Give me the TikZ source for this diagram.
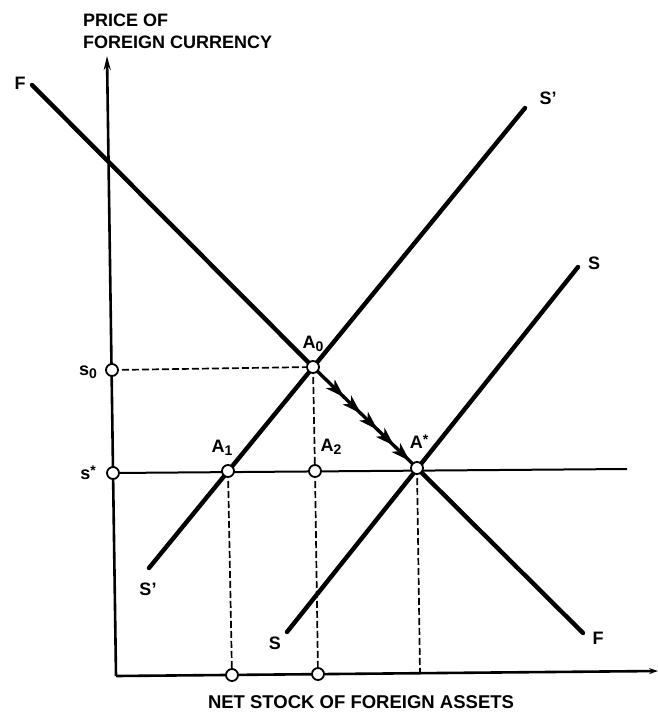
\documentclass[tikz,border=0pt]{standalone}
\usepackage{fontspec}
\setmainfont{Liberation Sans}
\usetikzlibrary{arrows.meta,decorations.markings}
\newcommand\lowsub[1]{\raisebox{-0.35ex}{\fontsize{14}{14}\selectfont #1}}
\newcommand\highsup[1]{\raisebox{0.45ex}{\fontsize{14}{14}\selectfont #1}}
\tikzset{flowtip/.tip={Stealth[length=19pt,width=12pt,inset=5pt]}}
\begin{document}
\begin{tikzpicture}[x=1pt,y=-1pt,
  curve/.style={line width=4.4pt, line cap=round},
  axisline/.style={line width=2.6pt},
  guide/.style={line width=1.7pt, dash pattern=on 7pt off 3pt},
  thinline/.style={line width=2pt},
  pt/.style={circle, draw, fill=white, line width=1.8pt, minimum size=12pt, inner sep=0pt},
  lab/.style={font=\fontsize{18}{18}\selectfont\bfseries, inner sep=0pt},
  flowarrows/.style={postaction={decorate}, decoration={markings,
     mark=at position 0.30 with {\arrow{flowtip}},
     mark=at position 0.46 with {\arrow{flowtip}},
     mark=at position 0.62 with {\arrow{flowtip}},
     mark=at position 0.78 with {\arrow{flowtip}},
     mark=at position 0.93 with {\arrow{flowtip}}}},
]
\useasboundingbox (0,0) rectangle (658,713);

% coordinates
\coordinate (top) at (107,56);
\coordinate (orig) at (116,676);
\coordinate (xend) at (658,671);
\coordinate (ps0) at (112,370);
\coordinate (pss) at (113,473);
\coordinate (pA0) at (313,367);
\coordinate (pA1) at (228,471);
\coordinate (pA2) at (315,471);
\coordinate (pAs) at (417,468);
\coordinate (px1) at (232,675);
\coordinate (px2) at (318,674);
\coordinate (px3) at (420,673);
\coordinate (sEnd) at (627,469);
\coordinate (Ftop) at (32,85);
\coordinate (Fbot) at (583,633);
\coordinate (Sp1) at (149,568);
\coordinate (Sp2) at (525,108);
\coordinate (S1) at (287,632);
\coordinate (S2) at (578,267);

% axes
\draw[axisline,-{Stealth[length=14pt,width=7pt]}] (orig) -- (top);
\draw[axisline,-{Stealth[length=9pt,width=6pt]}] (orig) -- (xend);

% guide lines
\draw[thinline] (pss) -- (sEnd);
\draw[guide] (ps0) -- (pA0);
\draw[guide] (pA0) -- (pA2);
\draw[guide] (pA2) -- (px2);
\draw[guide] (pA1) -- (px1);
\draw[guide] (pAs) -- (px3);

% curves
\draw[curve] (Ftop) -- (pA0);
\draw[curve] (pAs) -- (Fbot);
\draw[line width=3.4pt, flowarrows] (pA0) -- (pAs);
\draw[curve] (Sp1) -- (Sp2);
\draw[curve] (S1) -- (S2);

% points
\node[pt] (s0) at (ps0) {};
\node[pt] (ss) at (pss) {};
\node[pt] (A0) at (pA0) {};
\node[pt] (A1) at (pA1) {};
\node[pt] (A2) at (pA2) {};
\node[pt] (As) at (pAs) {};
\node[pt] (x1) at (px1) {};
\node[pt] (x2) at (px2) {};

% labels
\node[lab] (lA0) at (313,344) {A\lowsub{0}};
\node[lab] (lA1) at (222,448) {A\lowsub{1}};
\node[lab] (lA2) at (331,447) {A\lowsub{2}};
\node[lab] (lAs) at (419,442) {A\highsup{*}};
\node[lab] (ls0) at (88,372) {s\lowsub{0}};
\node[lab] (lss) at (88,473) {s\highsup{*}};
\node[lab] (lF1) at (20,83) {F};
\node[lab] (lF2) at (598,638) {F};
\node[lab] (lSp1) at (148,589) {S\textquoteright};
\node[lab] (lSp2) at (548,98) {S\textquoteright};
\node[lab] (lS1) at (275,643) {S};
\node[lab] (lS2) at (594,263) {S};
\node[anchor=west, align=left, inner sep=0pt, font=\fontsize{18}{22}\selectfont\bfseries] (title) at (83,31) {PRICE OF\\FOREIGN CURRENCY};
\node[inner sep=0pt, font=\fontsize{18.5}{18.5}\selectfont\bfseries] (xlab) at (361,702) {NET STOCK OF FOREIGN ASSETS};
\end{tikzpicture}
\end{document}
